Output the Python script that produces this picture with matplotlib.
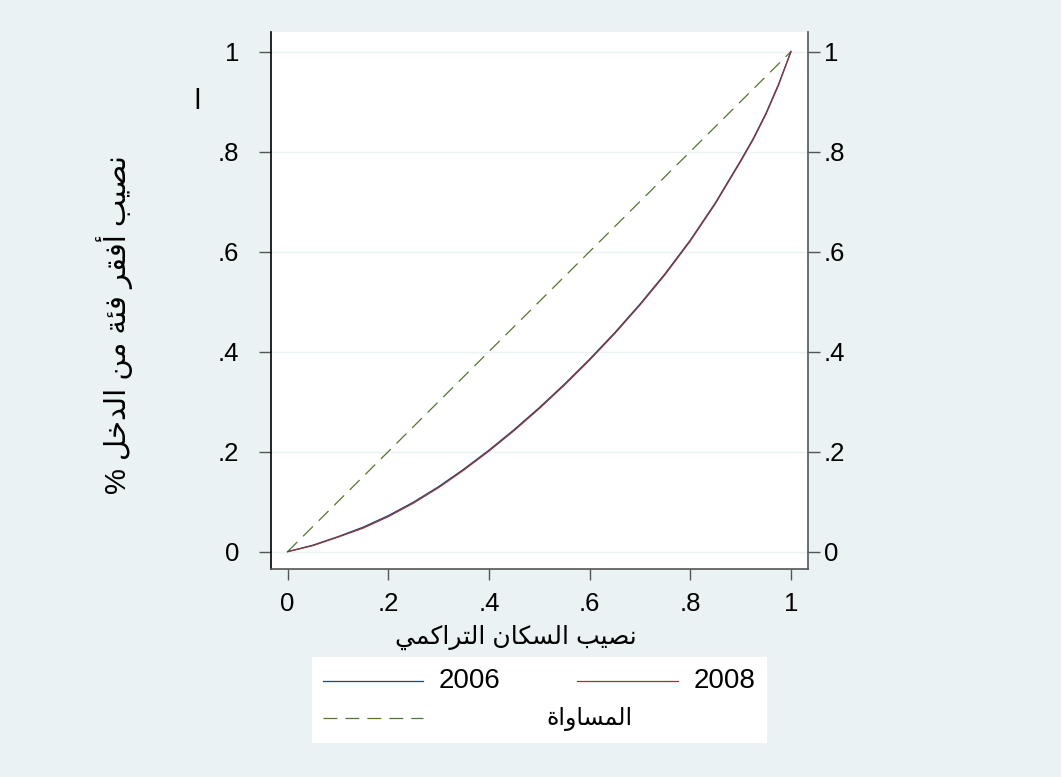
import matplotlib
matplotlib.use("Agg")
import matplotlib.pyplot as plt
from matplotlib.lines import Line2D

plt.rcParams["font.family"] = ["Liberation Sans", "DejaVu Sans"]
plt.rcParams["lines.scale_dashes"] = False

# Lorenz curve data: cumulative population share vs. income share
pop_share = [0, .05, .1, .15, .2, .25, .3, .35, .4, .45, .5, .55, .6, .65,
             .7, .75, .8, .85, .9, .925, .95, .975, 1]
income_2006 = [0, .013, .030, .049, .072, .099, .130, .165, .203, .244, .288,
               .335, .385, .438, .495, .556, .623, .698, .782, .826, .876,
               .934, 1]
income_2008 = [0, .012, .029, .047, .070, .097, .128, .163, .201, .242, .286,
               .333, .383, .436, .493, .554, .621, .696, .780, .824, .874,
               .932, 1]
equality = [0, 1]

ticks = [0, .2, .4, .6, .8, 1]
tick_labels = ["0", ".2", ".4", ".6", ".8", "1"]

y_title = "نصيب أفقر فئة من الدخل %"
x_title = "نصيب السكان التراكمي"
series_labels = ["2006", "2008", "المساواة"]

C_2006 = "#1a476f"
C_2008 = "#90353b"
C_EQ = "#55752f"
BG = "#eaf2f3"
TICK = "#555555"

# --- minimal Arabic shaping (matplotlib has no complex text layout) ---
# letter: (isolated, final, initial, medial); None -> joins on the right only
FORMS = {
    "ا": (0xFE8D, 0xFE8E, None, None),
    "أ": (0xFE83, 0xFE84, None, None),
    "ب": (0xFE8F, 0xFE90, 0xFE91, 0xFE92),
    "ة": (0xFE93, 0xFE94, None, None),
    "ت": (0xFE95, 0xFE96, 0xFE97, 0xFE98),
    "خ": (0xFEA5, 0xFEA6, 0xFEA7, 0xFEA8),
    "د": (0xFEA9, 0xFEAA, None, None),
    "ر": (0xFEAD, 0xFEAE, None, None),
    "س": (0xFEB1, 0xFEB2, 0xFEB3, 0xFEB4),
    "ص": (0xFEB9, 0xFEBA, 0xFEBB, 0xFEBC),
    "ف": (0xFED1, 0xFED2, 0xFED3, 0xFED4),
    "ق": (0xFED5, 0xFED6, 0xFED7, 0xFED8),
    "ك": (0xFED9, 0xFEDA, 0xFEDB, 0xFEDC),
    "ل": (0xFEDD, 0xFEDE, 0xFEDF, 0xFEE0),
    "م": (0xFEE1, 0xFEE2, 0xFEE3, 0xFEE4),
    "ن": (0xFEE5, 0xFEE6, 0xFEE7, 0xFEE8),
    "و": (0xFEED, 0xFEEE, None, None),
    "ي": (0xFEF1, 0xFEF2, 0xFEF3, 0xFEF4),
    "ئ": (0xFE89, 0xFE8A, 0xFE8B, 0xFE8C),
}


def shape(text):
    out = []
    for i, ch in enumerate(text):
        if ch not in FORMS:
            out.append(ch)
            continue
        prev = text[i - 1] if i > 0 else ""
        nxt = text[i + 1] if i + 1 < len(text) else ""
        iso, fin, ini, med = FORMS[ch]
        join_prev = prev in FORMS and FORMS[prev][2] is not None
        join_next = ini is not None and nxt in FORMS
        if join_prev and join_next:
            code = med
        elif join_prev:
            code = fin
        elif join_next:
            code = ini
        else:
            code = iso
        out.append(chr(code))
    return "".join(out)[::-1]


W, H = 1061, 777
fig = plt.figure(figsize=(W / 100, H / 100), dpi=100, facecolor=BG)


def fx(x):
    return x / W


def fy(y):
    return 1 - y / H


ax = fig.add_axes([fx(270.7), fy(568.5), fx(807.7) - fx(270.7), fy(32) - fy(568.5)])
ax.set_facecolor("white")

for y in ticks:
    ax.axhline(y, color=BG, lw=1.0, zorder=0)

ax.plot(pop_share, income_2006, color=C_2006, lw=0.9, zorder=3)
ax.plot(pop_share, income_2008, color=C_2008, lw=0.9, zorder=4)
ax.plot(equality, equality, color=C_EQ, lw=0.9, dashes=(10, 5.8), zorder=2)

ax.set_xlim(-0.0334, 1.0332)
ax.set_ylim(-0.0336, 1.039)

ax.set_xticks(ticks)
ax.set_xticklabels(tick_labels)
ax.set_yticks(ticks)
ax.set_yticklabels(tick_labels)

ax.spines["top"].set_visible(False)
ax.spines["right"].set_visible(False)
ax.spines["left"].set_color("black")
ax.spines["left"].set_linewidth(1.2)
ax.spines["bottom"].set_color(TICK)
ax.spines["bottom"].set_linewidth(1.2)

ax.tick_params(axis="x", direction="out", length=8, width=1, color=TICK,
               pad=9, labelsize=18.5)
ax.tick_params(axis="y", direction="out", length=8.5, width=1, color=TICK,
               pad=14, labelsize=18.5)

# right-hand axis repeats the y scale
ax2 = ax.twinx()
ax2.set_ylim(ax.get_ylim())
ax2.set_yticks(ticks)
ax2.set_yticklabels(tick_labels)
for side in ("left", "top", "bottom"):
    ax2.spines[side].set_visible(False)
ax2.spines["right"].set_color(TICK)
ax2.spines["right"].set_linewidth(1.2)
ax2.tick_params(axis="y", direction="out", length=8.5, width=1, color=TICK,
                pad=3, labelsize=18.5)

# axis titles
fig.text(fx(115), fy(325), shape(y_title), rotation=90, ha="center",
         va="center", fontsize=21)
fig.text(fx(197), fy(102), shape("ا"), ha="center", va="center", fontsize=20)
fig.text(fx(516), fy(637), shape(x_title), ha="center", va="center",
         fontsize=18)

# legend box
fig.patches.append(plt.Rectangle((fx(312), fy(743)), fx(767) - fx(312),
                                 fy(657) - fy(743), transform=fig.transFigure,
                                 facecolor="white", edgecolor="none"))
fig.add_artist(Line2D([fx(323), fx(423)], [fy(680.7)] * 2, color=C_2006, lw=0.9))
fig.add_artist(Line2D([fx(577), fx(678)], [fy(680.7)] * 2, color=C_2008, lw=0.9))
fig.add_artist(Line2D([fx(323), fx(423)], [fy(718.3)] * 2, color=C_EQ, lw=0.9,
                      dashes=(10, 5.8)))
fig.text(fx(439), fy(681), series_labels[0], ha="left", va="center", fontsize=20)
fig.text(fx(694), fy(681), series_labels[1], ha="left", va="center", fontsize=20)
fig.text(fx(632), fy(719), shape(series_labels[2]), ha="right", va="center",
         fontsize=17)

fig.savefig("out.png", dpi=100, facecolor=BG)
